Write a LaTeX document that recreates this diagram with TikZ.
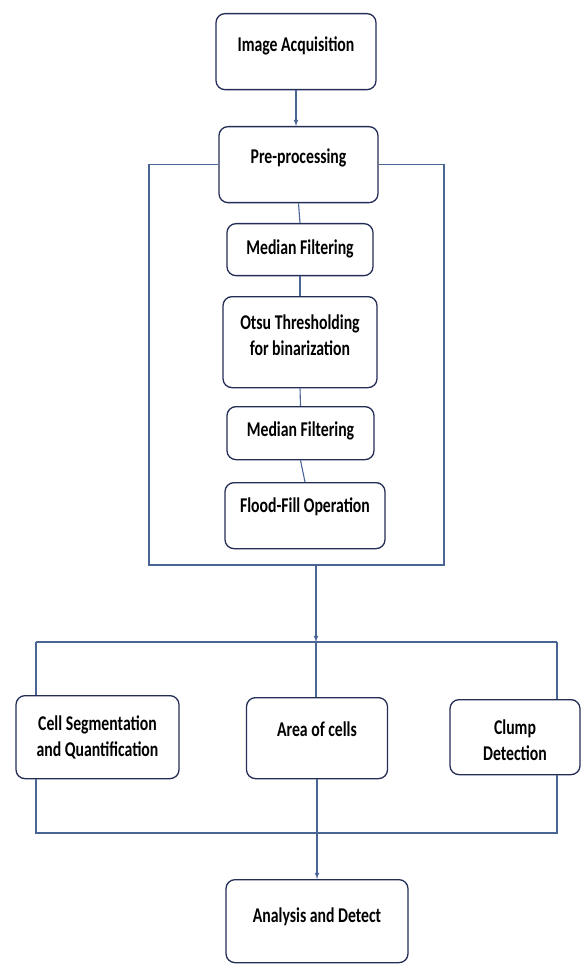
\documentclass[tikz,border=0pt]{standalone}
\usepackage{fontspec}
\setmainfont[FakeStretch=0.75]{Carlito}
\usetikzlibrary{arrows}
\definecolor{boxline}{RGB}{35,45,85}
\definecolor{linkblue}{RGB}{75,100,150}

\begin{document}
\begin{tikzpicture}[x=1pt, y=-1pt,
        stage/.style={draw=boxline, line width=1.3pt, rounded corners=9pt,
            anchor=north, inner sep=0pt, align=center,
            font=\fontsize{21}{26}\selectfont\bfseries},
        link/.style={draw=linkblue, line width=1.1pt}]
        \useasboundingbox (0,0) rectangle (582,965);

        % main column
        \node[stage, minimum width=160pt, text height=38pt, text depth=38pt] (acq) at (296,13) {Image Acquisition};
        \node[stage, minimum width=159pt, text height=37pt, text depth=39pt] (pre) at (298.5,126) {Pre-processing};
        \node[stage, minimum width=146pt, text height=31pt, text depth=21pt] (medA) at (300,223) {Median Filtering};
        \node[stage, minimum width=154pt, text height=59pt, text depth=32pt] (otsu) at (300,296) {Otsu Thresholding\\for binarization};
        \node[stage, minimum width=147pt, text height=30pt, text depth=23pt] (medB) at (300.5,406) {Median Filtering};
        \node[stage, minimum width=160pt, text height=30pt, text depth=36pt] (flood) at (305,482) {Flood-Fill Operation};

        % bottom row
        \node[stage, minimum width=163pt, text height=61pt, text depth=22pt] (cell) at (97.5,695) {Cell Segmentation\\and Quantification};
        \node[stage, minimum width=141pt, text height=39pt, text depth=42pt] (area) at (317,697) {Area of cells};
        \node[stage, minimum width=130pt, text height=61pt, text depth=14pt] (clump) at (515,699) {Clump\\Detection};
        \node[stage, minimum width=182pt, text height=43pt, text depth=40pt] (analysis) at (317,879) {Analysis and Detect};

        \coordinate (frameL) at (149,565);
        \coordinate (frameR) at (444,565);
        \coordinate (frameout) at (316,565);
        \coordinate (split) at (316,642);
        \coordinate (jl) at (36,642);
        \coordinate (jr) at (557,642);
        \coordinate (bl) at (36,833);
        \coordinate (br) at (557,833);

        % acquisition -> pre-processing
        \draw[link, -latex] (acq.south) -- (acq.south |- pre.north);

        % pre-processing steps
        \draw[link] (pre.south) -- (medA.north);
        \draw[link] (medA.south) -- (otsu.north);
        \draw[link] (otsu.south) -- (medB.north);
        \draw[link] (medB.south) -- (flood.north);
        \draw[link] (pre.west) -| (frameL) -- (frameR) |- (pre.east);

        % frame -> split
        \draw[link, -latex] (frameout) -- (split);
        \draw[link] (jl) -- (jr);
        \draw[link] (split) -- (split |- area.north);
        \draw[link] (jl) -- (cell.north -| jl);
        \draw[link] (jr) -- (clump.north -| jr);

        % merge -> analysis
        \draw[link] (cell.south -| bl) -- (bl) -- (br) -- (clump.south -| br);
        \draw[link, -latex] (area.south) -- (area.south |- analysis.north);
    \end{tikzpicture}
\end{document}
